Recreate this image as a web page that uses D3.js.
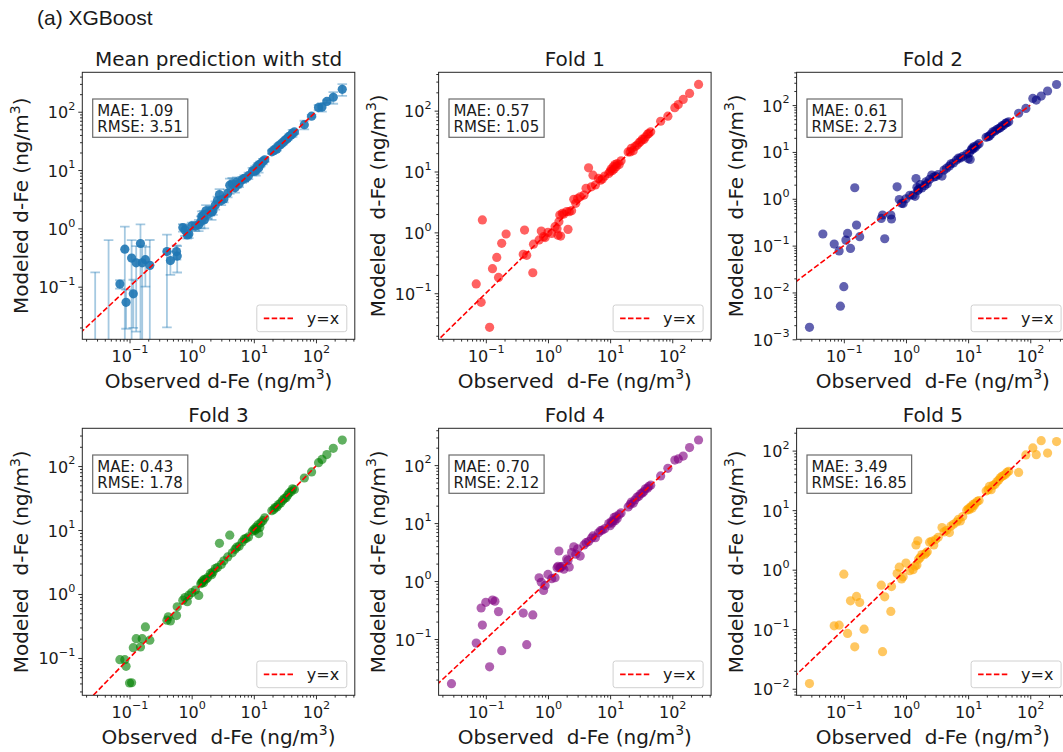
<!DOCTYPE html>
<html>
<head>
<meta charset="utf-8">
<script src="https://cdn.jsdelivr.net/npm/d3@7"></script>
<style>
  body { margin: 0; background: #fff; }
  svg text { font-family: "DejaVu Sans", sans-serif; fill: #1a1a1a; }
</style>
</head>
<body>
<svg id="chart" width="1063" height="752"></svg>
<script>
// Observed dissolved Fe (ng/m3), shared by all panels
const observed = [
  0.028, 0.046, 0.070, 0.084, 0.088, 0.100, 0.108, 0.115, 0.128, 0.140,
  0.150, 0.160, 0.180, 0.212, 0.40, 0.42, 0.455, 0.57, 0.585, 0.60,
  0.72, 0.78, 0.85, 0.9, 1.0, 1.15, 1.3, 1.4, 1.45, 1.5,
  1.55, 1.6, 1.7, 1.8, 2.0, 2.1, 2.2, 2.4, 2.6, 2.8,
  3.0, 3.3, 3.8, 4.1, 4.5, 5.0, 5.3, 5.8, 6.5, 7.0,
  7.5, 8.2, 9.5, 10.0, 10.4, 10.8, 11.2, 11.6, 12.0, 12.5,
  13.0, 14.0, 15.0, 19.5, 21.0, 22.0, 23.5, 25.0, 27.0, 29.0,
  31.0, 33.0, 35.0, 37.0, 40.0, 42.0, 45.0, 65.0, 85.0, 110.0,
  125.0, 150.0, 190.0, 265.0
];

// Mean of the fold models and its standard deviation
const meanPrediction = [
  0.006, 0.008, 0.111, 0.44, 0.054, null, 0.31, 0.0756, 0.257, null,
  0.55, 0.257, 0.29, 0.232, 0.40, null, 0.28, 0.40, 0.335, null,
  1.03, 0.94, 0.77, 0.80, 1.1, 1.1, 1.15, 1.3, 1.6, 1.5,
  1.7, 1.4, 2.0, 1.75, 2.0, 1.9, 2.0, 2.5, 3.0, 3.8,
  3.0, 3.2, 4.0, 5.5, 5.8, 5.0, 6.2, 5.8, 6.8, 7.2,
  7.3, 8.0, 9.5, 9.6, 10.0, 9.8, 11.0, 11.8, 11.0, 12.5,
  12.8, 14.0, 15.0, 20.5, 21.5, 23.0, 23.0, 26.0, 27.5, 29.5,
  31.5, 33.5, 35.0, 38.0, 40.0, 43.0, 45.0, 60.0, 84.0, 118.0,
  120.0, 150.0, 177.0, 242.0
];
const meanStd = [
  0.17, 0.62, 0.018, 0.63, 0.035, null, 0.32, 0.056, 0.24, null,
  0.62, 0.25, 0.19, 0.40, 0.38, null, 0.12, 0.11, 0.16, null,
  0.15, 0.2, 0.1, 0.12, 0.15, 0.2, 0.25, 0.3, 0.35, 0.25,
  0.3, 0.4, 0.5, 0.3, 0.35, 0.5, 0.3, 0.4, 0.5, 0.9,
  0.5, 0.4, 0.6, 1.6, 1.5, 0.9, 1.3, 0.7, 0.8, 0.9,
  0.6, 1.0, 1.4, 1.2, 1.5, 1.8, 1.3, 1.2, 2.0, 1.4,
  1.2, 1.5, 1.2, 1.5, 1.8, 2.0, 1.5, 2.2, 2.0, 2.4,
  2.0, 2.5, 2.3, 2.8, 3.0, 6.0, 3.5, 10.0, 4.0, 12.0,
  20.0, 8.0, 40.0, 55.0
];

// Per-fold predictions (null: not positive, so not shown on a log axis)
const fold1Prediction = [
  null, null, 0.142, 0.071, 1.6, null, null, 0.0275, 0.253, null,
  0.388, 0.182, 0.66, 0.94, 0.435, 1.09, 0.42, 0.217, 0.64, null,
  0.75, 1.05, 0.85, 0.82, 1.0, 0.96, 1.24, 1.15, 0.9, 1.5,
  1.93, 0.87, 2.05, 2.0, 2.2, 1.12, 2.19, 2.27, 3.49, 3.0,
  3.6, 3.85, 4.1, 5.3, 11.5, 5.6, 8.7, 6.0, 7.7, 7.2,
  7.5, 8.4, 9.3, 10.0, 11.0, 10.3, 12.0, 11.0, 13.0, 12.0,
  13.5, 13.0, 15.0, 21.0, 21.0, 24.0, 22.0, 25.6, 27.0, 29.5,
  31.0, 34.0, 33.7, 37.0, 41.0, 42.0, 45.0, 67.0, 81.0, 112.0,
  126.0, 153.0, 192.0, 270.0
];
const fold2Prediction = [
  0.0018, 0.177, 0.108, 0.077, 0.0051, 0.0133, 0.131, 0.182, 0.087, null,
  1.72, 0.275, 0.155, null, 0.38, 0.45, 0.14, 0.45, 0.37, null,
  1.8, 0.96, 0.80, 0.79, 1.0, 1.19, 1.2, 1.13, 2.7, 1.76,
  1.5, 1.6, 2.0, 1.7, 1.9, 2.3, 2.1, 2.6, 3.2, 2.9,
  3.0, 3.3, 3.05, 4.1, 4.5, 5.0, 5.6, 5.8, 6.7, 7.4,
  7.4, 8.0, 9.0, 7.2, 9.5, 6.9, 11.0, 12.0, 11.5, 13.0,
  12.5, 14.0, 15.0, 20.5, 21.2, 22.0, 24.0, 27.0, 28.0, 30.0,
  31.5, 33.0, 36.0, 37.0, 41.0, 42.0, 44.0, 67.0, 85.0, 139.0,
  128.0, 156.0, 200.0, 275.0
];
const fold3Prediction = [
  null, null, 0.094, 0.094, 0.074, 0.0406, 0.041, 0.145, 0.2, null,
  0.149, 0.2, 0.306, 0.19, 0.39, 0.44, 0.38, 0.46, 0.63, null,
  0.80, 0.88, 0.76, 0.96, 1.05, 1.15, 0.95, 1.45, 1.5, 1.6,
  1.5, 1.7, 1.7, 1.8, 2.1, 2.0, 2.2, 2.5, 2.6, 6.2,
  2.9, 3.3, 3.8, 8.3, 4.4, 5.0, 5.4, 5.6, 6.5, 7.2,
  7.4, 7.8, 9.6, 10.2, 9.8, 11.0, 10.5, 12.0, 8.8, 11.0,
  13.0, 14.0, 15.5, 20.0, 21.0, 22.5, 23.0, 25.0, 26.5, 29.0,
  31.0, 32.0, 35.0, 38.0, 40.0, 44.0, 43.0, 65.0, 81.0, 113.0,
  127.0, 151.0, 189.0, 255.0
];
const fold4Prediction = [
  0.017, null, 0.085, 0.343, 0.174, 0.43, null, 0.0332, 0.47, 0.45,
  null, 0.297, 0.063, null, 0.28, null, 0.08, 0.26, null, null,
  1.14, 0.95, 0.69, 0.84, 1.3, 1.1, 1.14, 1.7, 1.8, 3.3,
  1.68, 1.75, 1.8, 1.6, 2.4, 2.27, 1.74, 3.1, 3.9, 2.9,
  3.6, 2.7, 4.2, 4.6, 4.8, 5.5, 6.0, 5.6, 6.8, 7.4,
  7.6, 8.0, 9.8, 9.0, 10.5, 10.0, 11.0, 12.5, 11.0, 13.0,
  12.0, 14.0, 15.0, 19.0, 21.0, 23.0, 22.0, 25.0, 28.0, 29.0,
  32.0, 33.0, 35.0, 39.0, 40.0, 43.0, 45.0, 65.0, 88.0, 122.0,
  128.0, 143.0, 201.0, 271.0
];
const fold5Prediction = [
  0.0122, null, 0.114, 0.117, null, 0.84, null, 0.085, 0.30, null,
  0.0506, 0.355, 0.281, 0.10, 0.55, 0.042, 0.35, 0.199, 0.52, null,
  0.86, 1.1, 0.70, 0.76, 1.29, 0.96, 1.0, 1.15, 2.6, 1.2,
  3.06, 1.5, 1.6, 1.8, 1.8, 1.9, 2.0, 2.9, 3.0, 2.6,
  3.2, 3.5, 5.1, 4.3, 4.6, 4.2, 5.4, 5.8, 6.3, 7.0,
  6.6, 7.8, 10.0, 10.5, 10.2, 11.0, 11.5, 10.8, 12.5, 12.0,
  13.0, 14.0, 14.5, 21.0, 22.0, 25.0, 22.0, 26.0, 27.0, 30.0,
  32.0, 35.0, 37.0, 38.0, 40.0, 43.0, 45.0, 43.0, 84.5, 111.0,
  85.5, 147.0, 91.0, 142.0
];

const panelTitles = ["Mean prediction with std", "Fold 1", "Fold 2", "Fold 3", "Fold 4", "Fold 5"];
const maeValues = ["1.09", "0.57", "0.61", "0.43", "0.70", "3.49"];
const rmseValues = ["3.51", "1.05", "2.73", "1.78", "2.12", "16.85"];

// Axis limits (ng/m3)
const xLimits = [0.01738, 421.7];
const yLimits = [
  [0.01253, 474.2],
  [0.0175, 426.6],
  [0.001, 501.2],
  [0.0261, 389.0],
  [0.0107, 431.5],
  [0.00776, 237.1]
];
const identityLine = [0.001, 100];

const predictions = [meanPrediction, fold1Prediction, fold2Prediction,
                     fold3Prediction, fold4Prediction, fold5Prediction];
const pointColors = ["#1f77b4", "red", "navy", "green", "purple", "orange"];

// ---- layout ----
const svg = d3.select("#chart");
svg.append("rect").attr("width", 1063).attr("height", 752).attr("fill", "#fff");

const W = 272.5, H = 267;
const colLeft = [82.3, 438.6, 796.6];
const rowTop = [72.3, 428.3];
const tickSize = 16, textSize = 15, legendSize = 16, labelSize = 20;
const ink = "#1a1a1a";

svg.append("text")
  .attr("x", 37).attr("y", 25)
  .style("font-family", "'Liberation Sans', Arial, sans-serif")
  .attr("font-size", 21)
  .text("(a) XGBoost");

function powerLabel(sel, exp, size) {
  sel.append("tspan").text("10");
  sel.append("tspan").attr("font-size", size * 0.7).attr("dy", -size * 0.52)
    .text(exp < 0 ? "\u2212" + (-exp) : String(exp));
}

function unitLabel(sel, prefix, size) {
  sel.append("tspan").text(prefix + "(ng/m");
  sel.append("tspan").attr("font-size", size * 0.7).attr("dy", -size * 0.42).text("3");
  sel.append("tspan").attr("dy", size * 0.42).text(")");
}

function decadeTicks(domain) {
  const lo = Math.log10(domain[0]) - 1e-9, hi = Math.log10(domain[1]) + 1e-9;
  const major = [], minor = [];
  for (let k = Math.floor(lo); k <= Math.ceil(hi); k++) {
    if (k >= lo && k <= hi) major.push(k);
    for (let m = 2; m <= 9; m++) {
      const v = Math.log10(m) + k;
      if (v >= lo && v <= hi) minor.push(m * Math.pow(10, k));
    }
  }
  return { major, minor };
}

panelTitles.forEach((title, p) => {
  const col = p % 3, row = Math.floor(p / 3);
  const g = svg.append("g").attr("transform", `translate(${colLeft[col]},${rowTop[row]})`);
  const x = d3.scaleLog().domain(xLimits).range([0, W]);
  const y = d3.scaleLog().domain(yLimits[p]).range([H, 0]);
  const pred = predictions[p];

  const clipId = "clip" + p;
  g.append("clipPath").attr("id", clipId)
    .append("rect").attr("width", W).attr("height", H);
  const plot = g.append("g").attr("clip-path", `url(#${clipId})`);

  const rows = observed.map((o, i) => ({ o, m: pred[i], s: p === 0 ? meanStd[i] : null }))
    .filter(d => d.m !== null);

  if (p === 0) {
    // vertical error bars with caps
    const bars = plot.append("g").attr("stroke", "#1f77b4").attr("stroke-opacity", 0.4)
      .attr("stroke-width", 1.8);
    rows.forEach(d => {
      const cx = x(d.o);
      const top = y(d.m + d.s);
      const lowVal = d.m - d.s;
      const bottom = lowVal > 0 ? y(lowVal) : H + 20;
      bars.append("line").attr("x1", cx).attr("x2", cx).attr("y1", bottom).attr("y2", top);
      bars.append("line").attr("x1", cx - 4.8).attr("x2", cx + 4.8).attr("y1", top).attr("y2", top);
      if (lowVal > 0) {
        bars.append("line").attr("x1", cx - 4.8).attr("x2", cx + 4.8).attr("y1", bottom).attr("y2", bottom);
      }
    });
  }

  plot.append("g").selectAll("circle").data(rows).join("circle")
    .attr("cx", d => x(d.o)).attr("cy", d => y(d.m)).attr("r", 4.6)
    .attr("fill", pointColors[p])
    .attr("fill-opacity", p === 0 ? 0.9 : 0.62);

  const line = d3.line().x(d => x(d)).y(d => y(d));
  plot.append("path").datum(identityLine).attr("d", line)
    .attr("fill", "none").attr("stroke", "red").attr("stroke-width", 1.6)
    .attr("stroke-dasharray", "5.5,2.4");

  // frame
  g.append("rect").attr("width", W).attr("height", H)
    .attr("fill", "none").attr("stroke", "#262626").attr("stroke-width", 1);

  // axes
  const xt = decadeTicks(xLimits), yt = decadeTicks(yLimits[p]);
  const xMinor = g.append("g").attr("transform", `translate(0,${H})`).attr("color", ink)
    .call(d3.axisBottom(x).tickValues(xt.minor).tickSize(2.3).tickFormat(""));
  const xMajor = g.append("g").attr("transform", `translate(0,${H})`).attr("color", ink)
    .call(d3.axisBottom(x).tickValues(xt.major.map(k => Math.pow(10, k))).tickSize(4).tickFormat(""));
  const yMinor = g.append("g").attr("color", ink)
    .call(d3.axisLeft(y).tickValues(yt.minor).tickSize(2.3).tickFormat(""));
  const yMajor = g.append("g").attr("color", ink)
    .call(d3.axisLeft(y).tickValues(yt.major.map(k => Math.pow(10, k))).tickSize(4).tickFormat(""));
  [xMinor, xMajor, yMinor, yMajor].forEach(a => {
    a.select(".domain").remove();
    a.selectAll(".tick text").remove();
    a.selectAll(".tick line").attr("stroke-width", 0.9);
  });
  xMajor.selectAll(".tick").each(function (d) {
    const t = d3.select(this).append("text")
      .attr("y", 22.3).attr("text-anchor", "middle").attr("font-size", tickSize);
    powerLabel(t, Math.round(Math.log10(d)), tickSize);
  });
  yMajor.selectAll(".tick").each(function (d) {
    const t = d3.select(this).append("text")
      .attr("x", -7).attr("y", 6).attr("text-anchor", "end").attr("font-size", tickSize);
    powerLabel(t, Math.round(Math.log10(d)), tickSize);
  });

  // title and axis labels
  g.append("text").attr("x", W / 2).attr("y", -6).attr("text-anchor", "middle")
    .attr("font-size", labelSize).text(title);
  const gap = p === 0 ? " " : "\u00A0 ";
  const xl = g.append("text").attr("x", W / 2).attr("y", H + 48.5)
    .attr("text-anchor", "middle").attr("font-size", labelSize);
  unitLabel(xl, "Observed" + gap + "d-Fe ", labelSize);
  const yl = g.append("text")
    .attr("transform", `translate(-54,${H / 2}) rotate(-90)`)
    .attr("text-anchor", "middle").attr("font-size", labelSize);
  unitLabel(yl, "Modeled" + gap + "d-Fe ", labelSize);

  // statistics box
  const stats = g.append("g");
  const statsRect = stats.append("rect");
  const st = stats.append("text").attr("font-size", textSize);
  st.append("tspan").attr("x", 15).attr("y", 43.4).text("MAE: " + maeValues[p]);
  st.append("tspan").attr("x", 15).attr("y", 60).text("RMSE: " + rmseValues[p]);
  let wMax = 0;
  st.selectAll("tspan").each(function () { wMax = Math.max(wMax, this.getComputedTextLength()); });
  statsRect.attr("x", 10.4).attr("y", 26.7).attr("width", wMax + 4.6 + 4.9).attr("height", 38.3)
    .attr("fill", "#fff").attr("stroke", "#6b6b6b").attr("stroke-width", 1.2);

  // legend
  const lw = 90, lh = 26.7;
  const lg = g.append("g").attr("transform", `translate(${W - 8 - lw},${H - 7.6 - lh})`);
  lg.append("rect").attr("width", lw).attr("height", lh).attr("rx", 2.5)
    .attr("fill", "#fff").attr("fill-opacity", 0.8)
    .attr("stroke", "#d0d0d0").attr("stroke-width", 1);
  lg.append("line").attr("x1", 7).attr("x2", 37).attr("y1", lh / 2).attr("y2", lh / 2)
    .attr("stroke", "red").attr("stroke-width", 1.6).attr("stroke-dasharray", "5.5,2.4");
  lg.append("text").attr("x", 50).attr("y", lh / 2 + 5.6).attr("font-size", legendSize).text("y=x");
});
</script>
</body>
</html>
